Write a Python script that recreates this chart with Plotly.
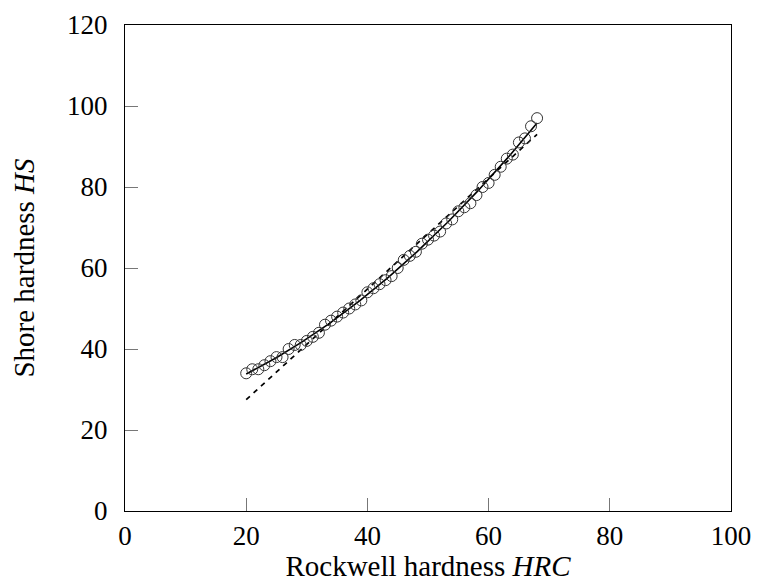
import numpy as np
import plotly.graph_objects as go

hrc = list(range(20, 69))
hs = [34, 35, 35, 36, 37, 38, 38, 40, 41, 41,
      42, 43, 44, 46, 47, 48, 49, 50, 51, 52,
      54, 55, 56, 57, 58, 60, 62, 63, 64, 66,
      67, 68, 69, 71, 72, 74, 75, 76, 78, 80,
      81, 83, 85, 87, 88, 91, 92, 95, 97]
# linear approximation drawn as dashed line: HS = a*HRC + b
lin_coef = [1.365, 0.2]

x = np.array(hrc, dtype=float)
y = np.array(hs, dtype=float)
xs = np.linspace(20, 68, 200)
quad = np.polyval(np.polyfit(x, y, 2), xs)
lin = np.polyval(lin_coef, xs)

font_family = "Liberation Serif"

fig = go.Figure()
fig.add_trace(go.Scatter(x=xs, y=lin, mode="lines",
                         line=dict(color="black", width=1.7, dash="5px,5px"),
                         showlegend=False))
fig.add_trace(go.Scatter(x=xs, y=quad, mode="lines",
                         line=dict(color="black", width=1.6),
                         showlegend=False))
fig.add_trace(go.Scatter(x=hrc, y=hs, mode="markers",
                         marker=dict(symbol="circle-open", size=11,
                                     color="#333333", line=dict(width=1)),
                         showlegend=False))

axis_common = dict(
    showgrid=False, zeroline=False, showline=True, linecolor="black",
    linewidth=1.2, mirror=True, ticks="inside", ticklen=13,
    tickcolor="#777777", tickwidth=1, automargin=False,
    tickfont=dict(family=font_family, size=27, color="black"),
)
fig.update_xaxes(range=[0, 100], tickvals=[0, 20, 40, 60, 80, 100],
                 title=dict(text="Rockwell hardness <i>HRC</i>",
                            font=dict(family=font_family, size=29, color="black"),
                            standoff=3),
                 **axis_common)
fig.update_yaxes(range=[0, 120], tickvals=[0, 20, 40, 60, 80, 100, 120],
                 ticklabelstandoff=11,
                 title=dict(text="Shore hardness <i>HS</i>",
                            font=dict(family=font_family, size=29, color="black"),
                            standoff=23),
                 **axis_common)
fig.update_layout(width=771, height=586, plot_bgcolor="white",
                  paper_bgcolor="white", font=dict(family=font_family),
                  margin=dict(l=125, r=40, t=25, b=75))
fig.write_html("out.html")
